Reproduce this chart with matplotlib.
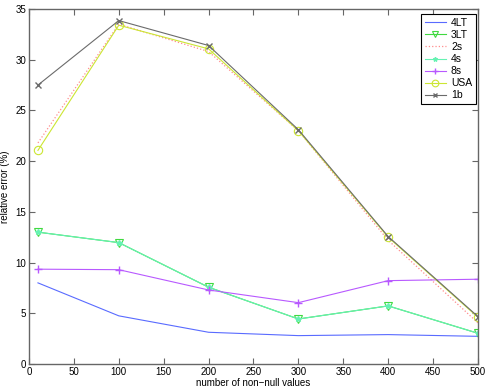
import matplotlib
matplotlib.use("Agg")
import matplotlib.pyplot as plt

plt.rcParams['font.family'] = ['Liberation Sans', 'DejaVu Sans']
plt.rcParams['font.size'] = 7

# number of non-null values
x = [10, 100, 200, 300, 400, 500]

err_4LT = [8.0, 4.75, 3.13, 2.8, 2.9, 2.73]
err_3LT = [13.0, 11.97, 7.57, 4.44, 5.73, 3.03]
err_2s = [21.8, 33.5, 30.8, 23.0, 12.2, 4.05]
err_4s = [13.0, 11.97, 7.57, 4.44, 5.73, 3.03]
err_8s = [9.35, 9.3, 7.3, 6.05, 8.22, 8.36]
err_USA = [21.06, 33.4, 31.07, 23.0, 12.5, 4.6]
err_1b = [27.5, 33.86, 31.4, 23.1, 12.57, 4.67]

fig = plt.figure(figsize=(4.91, 3.91), dpi=100)
ax = fig.add_axes([0.059, 0.069, 0.9145, 0.908])

ax.plot(x, err_4LT, color=(0.35, 0.42, 1.0), lw=0.8, label='4LT')
ax.plot(x, err_3LT, color=(0.25, 0.85, 0.25), lw=0.8, marker='v', ms=6,
        mfc='none', mew=0.8, label='3LT')
ax.plot(x, err_2s, color=(1.0, 0.55, 0.55), lw=0.9, ls=':', label='2s')
ax.plot(x, err_4s, color=(0.4, 0.95, 0.7), lw=0.8, marker='*', ms=4,
        label='4s')
ax.plot(x, err_8s, color=(0.72, 0.35, 1.0), lw=0.8, marker='+', ms=6,
        label='8s')
ax.plot(x, err_USA, color=(0.8, 0.9, 0.2), lw=0.8, marker='o', ms=6,
        mfc='none', mew=0.8, label='USA')
ax.plot(x, err_1b, color=(0.42, 0.42, 0.42), lw=0.8, marker='x', ms=4,
        label='1b')

ax.set_xlim(0, 500)
ax.set_ylim(0, 35)
ax.set_xticks(range(0, 501, 50))
ax.set_yticks(range(0, 36, 5))
ax.set_xlabel('number of non\u2212null values', labelpad=1)
ax.set_ylabel('relative error (%)', labelpad=4)

for s in ax.spines.values():
    s.set_color((0.4, 0.4, 0.4))
    s.set_linewidth(1.0)
ax.tick_params(direction='in', top=True, right=True, length=4,
               color=(0.4, 0.4, 0.4), pad=2)

leg = ax.legend(loc='upper right', bbox_to_anchor=(0.995, 0.985),
                fancybox=False, edgecolor='black', framealpha=1,
                borderaxespad=0, handlelength=2.0, handletextpad=0.5,
                labelspacing=0.2, borderpad=0.35, fontsize=7.5,
                markerscale=0.8)
leg.get_frame().set_linewidth(0.8)

fig.savefig('out.png', dpi=100)
